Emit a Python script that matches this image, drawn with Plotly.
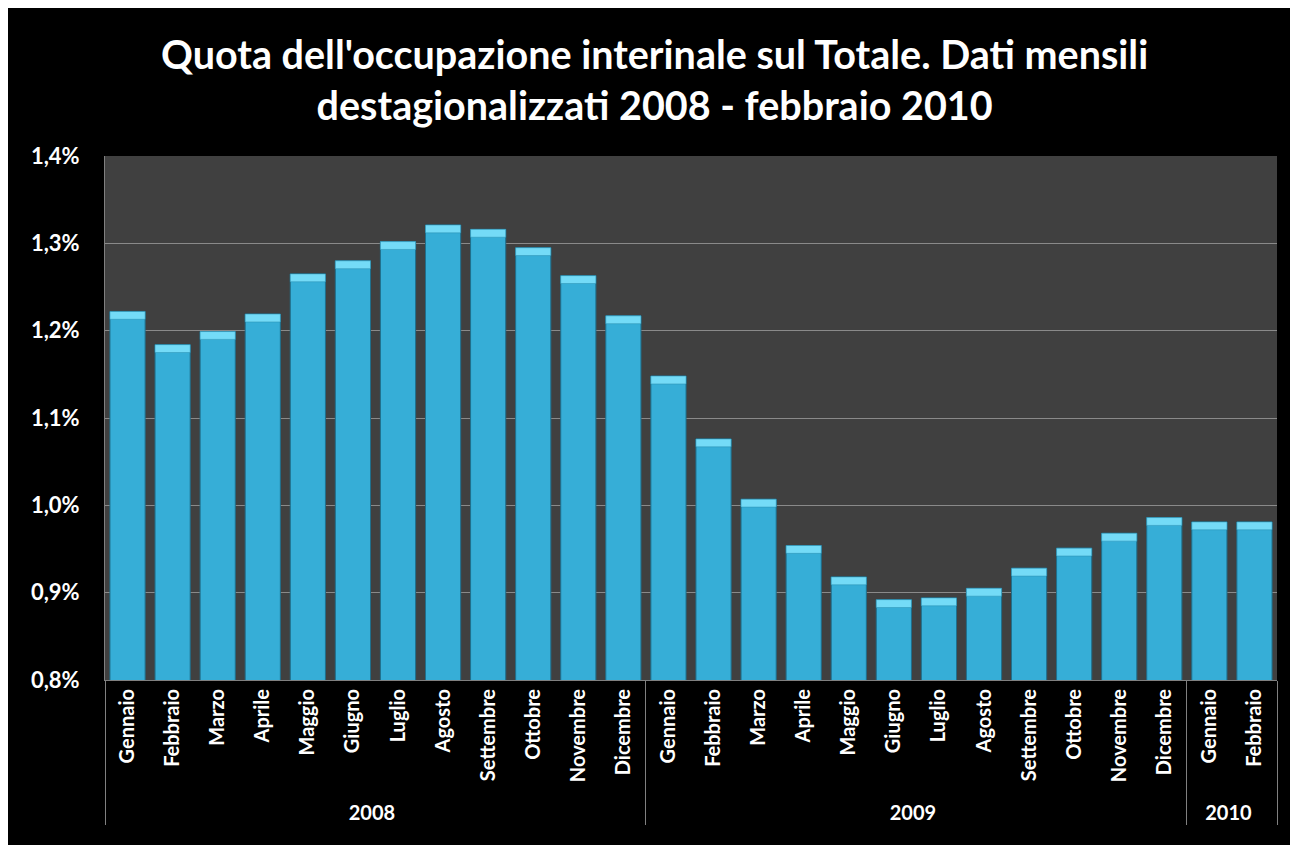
import plotly.graph_objects as go

years = ["2008"] * 12 + ["2009"] * 12 + ["2010"] * 2
months = ["Gennaio", "Febbraio", "Marzo", "Aprile", "Maggio", "Giugno", "Luglio",
          "Agosto", "Settembre", "Ottobre", "Novembre", "Dicembre",
          "Gennaio", "Febbraio", "Marzo", "Aprile", "Maggio", "Giugno", "Luglio",
          "Agosto", "Settembre", "Ottobre", "Novembre", "Dicembre",
          "Gennaio", "Febbraio"]
quota = [1.222, 1.184, 1.199, 1.219, 1.265, 1.280, 1.302, 1.321, 1.316, 1.295, 1.263, 1.217,
         1.148, 1.076, 1.007, 0.954, 0.918, 0.892, 0.894, 0.905, 0.928, 0.951, 0.968, 0.986,
         0.981, 0.981]
y_ticks = [0.8, 0.9, 1.0, 1.1, 1.2, 1.3, 1.4]
y_labels = ["0,8%", "0,9%", "1,0%", "1,1%", "1,2%", "1,3%", "1,4%"]
title_text = "Quota dell'occupazione interinale sul Totale. Dati mensili<br>destagionalizzati 2008 - febbraio 2010"

cap = 0.009
x = [years, months]

fig = go.Figure()
fig.add_trace(go.Bar(
    x=x, y=quota,
    marker=dict(color="#36aed7", line=dict(color="#1f6f8c", width=1)),
    hoverinfo="y",
))
fig.add_trace(go.Bar(
    x=x, y=[cap] * len(quota), base=[v - cap for v in quota],
    marker=dict(color="#74dbf7", line=dict(color="#2a8fb0", width=0.5)),
    hoverinfo="skip",
))

fig.update_layout(
    width=1298, height=845,
    paper_bgcolor="#000000",
    plot_bgcolor="#404040",
    barmode="overlay",
    bargap=0.22,
    showlegend=False,
    margin=dict(l=97, r=29, t=148, b=173, autoexpand=False),
    font=dict(family="Lato", color="white"),
    annotations=[dict(
        text=title_text, xref="paper", yref="paper", x=0.469, y=1.147,
        xanchor="center", yanchor="middle", showarrow=False,
        font=dict(family="Lato", size=39.5, color="white", weight="bold"),
    )],
)
fig.update_xaxes(
    type="multicategory",
    tickangle=-90,
    tickfont=dict(family="Lato", size=20, color="white", weight="bold"),
    showdividers=True, dividercolor="#808080", dividerwidth=1,
    showline=True, linecolor="#808080", linewidth=1,
    ticks="", showgrid=False, automargin=False,
)
fig.update_yaxes(
    range=[0.8, 1.4],
    tickvals=y_ticks, ticktext=y_labels,
    tickfont=dict(family="Lato", size=22, color="white", weight="bold"),
    showgrid=True, gridcolor="#8a8a8a", gridwidth=1,
    showline=True, linecolor="#808080", linewidth=1,
    ticks="", ticklabelstandoff=20,
    zeroline=False, automargin=False,
)

fig.write_html("out.html")
